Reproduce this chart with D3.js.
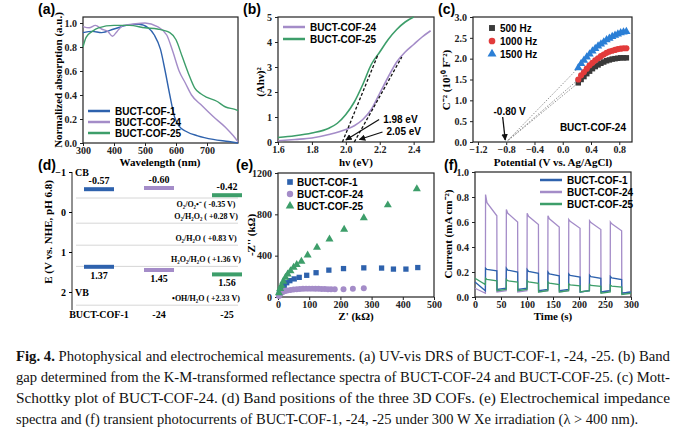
<!DOCTYPE html>
<html><head><meta charset="utf-8">
<script src="https://cdn.jsdelivr.net/npm/d3@7"></script>
<style>
body{margin:0;background:#fff}
svg text{font-family:"Liberation Serif",serif}
.tk{font-weight:bold;font-size:10px}
.lg{font-family:"Liberation Sans",Arial,sans-serif !important;font-weight:bold;font-size:10px}
.pl{font-family:"Liberation Sans",Arial,sans-serif !important;font-weight:bold;font-size:14px}
</style></head>
<body>
<svg id="fig" width="687" height="433"></svg>
<script>
// colours
const cBlue = "#2e62ad", cPurple = "#a48cc8", cGreen = "#3d9e6a";

// (a) UV-vis
const aNames = ["BUCT-COF-1", "BUCT-COF-24", "BUCT-COF-25"];
const aCof1 = [[300,.92],[330,.93],[360,.92],[400,.95],[440,.98],[480,.99],[510,.96],[530,.9],[550,.78],[565,.6],[580,.4],[595,.22],[610,.14],[630,.1],[670,.06],[720,.03],[770,.012],[800,0]];
const aCof24 = [[300,.97],[320,.96],[340,.98],[360,.95],[380,.93],[395,.89],[410,.93],[430,.98],[460,.99],[500,1],[540,.97],[570,.9],[590,.76],[610,.6],[630,.5],[650,.4],[680,.32],[720,.22],[760,.13],[785,.06],[800,.01]];
const aCof25 = [[300,.8],[310,.88],[330,.93],[350,.96],[400,.98],[450,.98],[500,.96],[540,.95],[580,.92],[600,.86],[620,.72],[640,.58],[660,.46],[680,.41],[700,.38],[730,.35],[760,.3],[790,.28],[800,.27]];

// (b) Tauc
const bCof24 = [[1.6,.05],[1.7,.1],[1.8,.16],[1.9,.3],[2.0,.5],[2.05,.65],[2.1,.9],[2.15,1.3],[2.2,1.95],[2.25,2.6],[2.3,3.2],[2.35,3.6],[2.4,3.9],[2.45,4.2],[2.5,4.45]];
const bCof25 = [[1.6,.18],[1.7,.25],[1.8,.36],[1.9,.55],[1.95,.75],[2.0,1.1],[2.05,1.6],[2.1,2.3],[2.15,3.1],[2.2,3.6],[2.25,4.1],[2.3,4.5],[2.35,4.8],[2.4,5.0]];
const bFit25 = [[1.98,0],[2.19,3.5]];
const bFit24 = [[2.05,0],[2.33,3.4]];

// (c) Mott-Schottky
const cV = [.22,.26,.3,.34,.38,.42,.46,.5,.54,.58,.62,.66,.7,.74,.78,.82,.86,.9];
const c500 = [1.42,1.5,1.57,1.64,1.7,1.76,1.81,1.85,1.89,1.92,1.95,1.97,1.99,2,2.01,2.02,2.02,2.02];
const c1000 = [1.5,1.6,1.68,1.76,1.84,1.9,1.96,2.01,2.06,2.1,2.14,2.17,2.19,2.21,2.23,2.24,2.25,2.25];
const c1500 = [1.78,1.88,1.96,2.04,2.11,2.18,2.24,2.3,2.35,2.4,2.45,2.49,2.53,2.56,2.59,2.62,2.64,2.65];
const cFreq = ["500 Hz", "1000 Hz", "1500 Hz"];
const cFlat = -0.8;

// (d) band positions
const dCB = [-0.57, -0.60, -0.42];
const dVB = [1.37, 1.45, 1.56];
const dCats = ["BUCT-COF-1", "-24", "-25"];
const dLevels = [-0.35, 0.28, 0.83, 1.36, 2.33];
const dLevelText = ["O\u2082/O\u2082\u2022\u207B ( -0.35 V)", "O\u2082/H\u2082O\u2082 ( +0.28 V)", "O\u2082/H\u2082O ( +0.83 V)", "H\u2082O\u2082/H\u2082O ( +1.36 V)", "\u2022OH/H\u2082O ( +2.33 V)"];

// (e) EIS
const e1 = [[4,30],[9,60],[14,90],[20,112],[28,138],[38,158],[52,175],[68,190],[92,210],[122,235],[163,260],[210,275],[275,282],[332,280],[370,270],[410,270],[448,285]];
const e24 = [[3,10],[6,25],[10,38],[15,48],[20,55],[25,60],[30,64],[40,68],[50,72],[60,75],[70,78],[80,80],[90,81],[100,81],[110,81],[120,80],[130,79],[140,78],[150,77],[160,76],[170,75],[182,74],[210,75],[240,80],[275,85]];
const e25 = [[3,40],[7,80],[11,110],[17,150],[24,190],[31,222],[40,252],[50,286],[60,312],[75,345],[95,405],[125,480],[165,560],[212,655],[275,765],[352,890],[445,1045]];

// (f) photocurrent: light on/off times and read levels per cycle
const fOn = [20, 60, 100, 140, 180, 220, 260];
const fOff = [42, 82, 122, 162, 202, 242, 282];
const fStart = {b: .12, p: .07, g: .15};
const fPeak = {b:[.23,.23,.22,.2,.185,.175,.165], p:[.82,.70,.67,.65,.62,.61,.60], g:[.15,.14,.13,.12,.105,.1,.095]};
const fEnd = {b:[.21,.2,.19,.17,.16,.15,.14], p:[.65,.60,.58,.56,.55,.54,.53], g:[.13,.12,.11,.1,.09,.085,.08]};
const fDark = {b:[.05,.07,.07,.06,.06,.05,.05,.04], p:[.03,.05,.05,.05,.05,.05,.05,.04], g:[.1,.06,.06,.05,.05,.05,.04,.03]};

const svg = d3.select("#fig");

function panel(x0, x1, y0, y1, xd, yd, xt, yt, xf, yf) {
  const x = d3.scaleLinear().domain(xd).range([x0, x1]);
  const y = d3.scaleLinear().domain(yd).range([y1, y0]);
  const g = svg.append("g");
  g.append("rect").attr("x", x0).attr("y", y0).attr("width", x1 - x0).attr("height", y1 - y0)
    .attr("fill", "none").attr("stroke", "#222").attr("stroke-width", 1.2);
  const ax = g.append("g").attr("transform", `translate(0,${y1})`)
    .call(d3.axisBottom(x).tickValues(xt).tickSize(3).tickFormat(xf || (d => d)));
  const ay = g.append("g").attr("transform", `translate(${x0},0)`)
    .call(d3.axisLeft(y).tickValues(yt).tickSize(3).tickFormat(yf || (d => d)));
  [ax, ay].forEach(a => {
    a.select(".domain").remove();
    a.selectAll("text").attr("class", "tk").attr("fill", "#222");
    a.selectAll("line").attr("stroke", "#222");
  });
  ax.selectAll("text").attr("dy", "0.45em");
  return {x, y, g};
}
function ylabel(t, xx, yy) {
  svg.append("text").attr("transform", `translate(${xx},${yy}) rotate(-90)`).attr("text-anchor", "middle")
    .attr("font-size", 11).attr("font-weight", "bold").text(t);
}
function xlabel(t, xx, yy) {
  svg.append("text").attr("x", xx).attr("y", yy).attr("text-anchor", "middle")
    .attr("font-size", 11).attr("font-weight", "bold").text(t);
}
function plabel(t, xx, yy) {
  svg.append("text").attr("class", "pl").attr("x", xx).attr("y", yy).text(t);
}
function legLine(g, xx, yy, col, t) {
  g.append("line").attr("x1", xx).attr("x2", xx + 22).attr("y1", yy).attr("y2", yy).attr("stroke", col).attr("stroke-width", 2.5);
  g.append("text").attr("class", "lg").attr("x", xx + 27).attr("y", yy + 3.5).text(t);
}
const line = (p) => d3.line().x(d => p.x(d[0])).y(d => p.y(d[1]));

// ---- (a)
const pa = panel(83, 238, 17, 143, [300, 800], [0, 1.05], [300, 400, 500, 600, 700], [0, .2, .4, .6, .8, 1], null, d3.format(".1f"));
[[aCof1, cBlue], [aCof24, cPurple], [aCof25, cGreen]].forEach(([d, c]) =>
  pa.g.append("path").datum(d).attr("d", line(pa).curve(d3.curveMonotoneX)).attr("fill", "none").attr("stroke", c).attr("stroke-width", 1.4));
[cBlue, cPurple, cGreen].forEach((c, i) => legLine(pa.g, 88, 111 + i * 11, c, aNames[i]));
ylabel("Normalized absorption (a.u.)", 62, 80);
xlabel("Wavelength (nm)", 160, 166);
plabel("(a)", 38, 14);

// ---- (b)
const pb = panel(278, 434, 17, 142, [1.6, 2.52], [0, 5], [1.6, 1.8, 2.0, 2.2, 2.4], [0, 1, 2, 3, 4, 5], d3.format(".1f"));
pb.g.append("path").datum(bCof24).attr("d", line(pb).curve(d3.curveMonotoneX)).attr("fill", "none").attr("stroke", cPurple).attr("stroke-width", 1.6);
pb.g.append("path").datum(bCof25).attr("d", line(pb).curve(d3.curveMonotoneX)).attr("fill", "none").attr("stroke", cGreen).attr("stroke-width", 1.6);
[bFit25, bFit24].forEach(d => pb.g.append("path").datum(d).attr("d", line(pb)).attr("stroke", "#111").attr("stroke-width", 1.3).attr("stroke-dasharray", "3,2"));
legLine(pb.g, 283, 27, cPurple, "BUCT-COF-24");
legLine(pb.g, 283, 39, cGreen, "BUCT-COF-25");
svg.append("defs").append("marker").attr("id", "ar").attr("viewBox", "0 0 10 10").attr("refX", 9).attr("refY", 5)
  .attr("markerWidth", 5).attr("markerHeight", 5).attr("orient", "auto")
  .append("path").attr("d", "M0,0L10,5L0,10z").attr("fill", "#111");
[[2.22, .9, 2.0, .08, "1.98 eV"], [2.24, .4, 2.08, .1, "2.05 eV"]].forEach(([tx, ty, hx, hy, t]) => {
  pb.g.append("line").attr("x1", pb.x(tx) - 4).attr("y1", pb.y(ty)).attr("x2", pb.x(hx)).attr("y2", pb.y(hy))
    .attr("stroke", "#111").attr("stroke-width", 1.3).attr("marker-end", "url(#ar)");
  pb.g.append("text").attr("class", "lg").attr("x", pb.x(tx)).attr("y", pb.y(ty) + 3).text(t);
});
ylabel("(Ah\u03BD)\u00B2", 264, 82);
xlabel("h\u03BD (eV)", 356, 166);
plabel("(b)", 243, 14);

// ---- (c)
const pc = panel(473, 632, 17, 142, [-1.27, 0.98], [0, 3], [-1.2, -0.8, -0.4, 0, 0.4, 0.8], [0, .5, 1, 1.5, 2, 2.5, 3], d3.format(".1f"), d3.format(".1f"));
const cSeries = [[c500, "#3a3a3a", d3.symbolSquare], [c1000, "#e23b3b", d3.symbolCircle], [c1500, "#2b7fd6", d3.symbolTriangle]];
cSeries.forEach(([vals, col, sym]) => {
  pc.g.append("line").attr("x1", pc.x(cFlat)).attr("y1", pc.y(0)).attr("x2", pc.x(cV[0])).attr("y2", pc.y(vals[0]))
    .attr("stroke", "#888").attr("stroke-width", 0.9).attr("stroke-dasharray", "1.5,1.5");
  pc.g.selectAll(null).data(cV).join("path")
    .attr("transform", (v, i) => `translate(${pc.x(v)},${pc.y(vals[i])})`)
    .attr("d", d3.symbol(sym, 30)).attr("fill", col);
});
cSeries.forEach(([, col, sym], i) => {
  pc.g.append("path").attr("transform", `translate(${492},${28 + i * 13})`).attr("d", d3.symbol(sym, 35)).attr("fill", col);
  pc.g.append("text").attr("class", "lg").attr("x", 500).attr("y", 31.5 + i * 13).text(cFreq[i]);
});
pc.g.append("line").attr("x1", pc.x(-0.85)).attr("y1", 117).attr("x2", pc.x(cFlat) - 1).attr("y2", pc.y(0) - 2)
  .attr("stroke", "#111").attr("stroke-width", 1.3).attr("marker-end", "url(#ar)");
pc.g.append("text").attr("class", "lg").attr("x", pc.x(-0.98)).attr("y", 115).text("-0.80 V");
pc.g.append("text").attr("class", "lg").attr("x", 626).attr("y", 131).attr("text-anchor", "end").text("BUCT-COF-24");
ylabel("C\u207B\u00B2 (10\u00B9\u2070 F\u207B\u00B2)", 450, 80);
xlabel("Potential (V vs. Ag/AgCl)", 553, 166);
plabel("(c)", 438, 14);

// ---- (d)
const dy = d3.scaleLinear().domain([-1, 2]).range([172, 292]);
const dx = d3.scaleBand().domain(dCats).range([78, 240]).paddingInner(0.5).paddingOuter(0.1);
const dAx = svg.append("g").attr("transform", "translate(72,0)").call(d3.axisLeft(dy).ticks(3).tickSize(3).tickFormat(d3.format("d")));
dAx.select(".domain").attr("d", `M0,${dy(-1)}V${dy(2.45)}`).attr("stroke", "#222");
dAx.selectAll("text").attr("class", "tk").attr("font-size", 11);
dLevels.forEach((v, i) => {
  svg.append("line").attr("x1", 76).attr("x2", 238).attr("y1", dy(v)).attr("y2", dy(v)).attr("stroke", "#ccc").attr("stroke-width", 0.8);
  svg.append("text").attr("x", 206).attr("y", dy(v) + (i === 0 ? 9 : -4)).attr("text-anchor", "middle")
    .attr("font-size", 8).attr("font-weight", "bold").text(dLevelText[i]);
});
const dCols = [cBlue, cPurple, cGreen];
dCats.forEach((c, i) => {
  const bx = dx(c) + (i === 2 ? 8 : 0);
  [dCB[i], dVB[i]].forEach((v, k) => {
    svg.append("rect").attr("x", bx).attr("y", dy(v) - 2).attr("width", dx.bandwidth()).attr("height", 4).attr("fill", dCols[i]);
    svg.append("text").attr("x", bx + dx.bandwidth() / 2).attr("y", k === 0 ? dy(v) - 5 : dy(v) + 12)
      .attr("text-anchor", "middle").attr("font-size", 10).attr("font-weight", "bold").text(v.toFixed(2));
  });
  svg.append("text").attr("x", bx + dx.bandwidth() / 2).attr("y", 318).attr("text-anchor", "middle")
    .attr("font-size", 10).attr("font-weight", "bold").text(c);
});
svg.append("text").attr("x", 75).attr("y", 176).attr("font-size", 10).attr("font-weight", "bold").text("CB");
svg.append("text").attr("x", 75).attr("y", 296).attr("font-size", 10).attr("font-weight", "bold").text("VB");
ylabel("E (V vs. NHE, pH 6.8)", 52, 232);
plabel("(d)", 38, 170);

// ---- (e)
const pe = panel(278, 434, 173, 297, [0, 500], [0, 1200], [0, 100, 200, 300, 400, 500], [0, 400, 800, 1200]);
[[e1, cBlue, d3.symbolSquare], [e24, cPurple, d3.symbolCircle], [e25, cGreen, d3.symbolTriangle]].forEach(([d, col, sym], i) => {
  pe.g.selectAll(null).data(d).join("path").attr("transform", p => `translate(${pe.x(p[0])},${pe.y(p[1])})`)
    .attr("d", d3.symbol(sym, 28)).attr("fill", col);
  pe.g.append("path").attr("transform", `translate(290,${182 + i * 12})`).attr("d", d3.symbol(sym, 32)).attr("fill", col);
  pe.g.append("text").attr("class", "lg").attr("x", 297).attr("y", 185.5 + i * 12).text(aNames[i]);
});
ylabel("-Z'' (k\u03A9)", 255, 235);
xlabel("Z' (k\u03A9)", 356, 320);
plabel("(e)", 236, 170);

// ---- (f)
const pf = panel(475, 631, 172, 297, [0, 300], [0, 1], [0, 50, 100, 150, 200, 250, 300], [0, .2, .4, .6, .8, 1], null, d3.format(".1f"));
function trace(k) {
  const pts = [[0, fStart[k]], [fOn[0], fDark[k][0]]];
  fOn.forEach((t, i) => {
    pts.push([t + 0.3, fPeak[k][i]], [t + 3, (fPeak[k][i] + fEnd[k][i]) / 2 + 0.02 * (k === "p")], [fOff[i], fEnd[k][i]]);
    pts.push([fOff[i] + 0.3, fDark[k][i + 1] - 0.01], [i < 6 ? fOn[i + 1] : 300, fDark[k][i + 1]]);
  });
  return pts;
}
[["p", cPurple], ["b", cBlue], ["g", cGreen]].forEach(([k, c]) =>
  pf.g.append("path").datum(trace(k)).attr("d", line(pf)).attr("fill", "none").attr("stroke", c).attr("stroke-width", 1.3));
[cBlue, cPurple, cGreen].forEach((c, i) => legLine(pf.g, 540, 180 + i * 12, c, aNames[i]));
ylabel("Current (mA cm\u207B\u00B2)", 452, 234);
xlabel("Time (s)", 553, 320);
plabel("(f)", 444, 170);

// caption
const cap = [
  ["Fig. 4.", " Photophysical and electrochemical measurements. (a) UV-vis DRS of BUCT-COF-1, -24, -25. (b) Band"],
  ["", "gap determined from the K-M-transformed reflectance spectra of BUCT-COF-24 and BUCT-COF-25. (c) Mott-"],
  ["", "Schottky plot of BUCT-COF-24. (d) Band positions of the three 3D COFs. (e) Electrochemical impedance"],
  ["", "spectra and (f) transient photocurrents of BUCT-COF-1, -24, -25 under 300 W Xe irradiation (\u03BB > 400 nm)."]
];
cap.forEach(([b, t], i) => {
  const tx = svg.append("text").attr("x", 16).attr("y", 361 + i * 21).attr("font-size", 14.5).attr("fill", "#111");
  if (i < 3) tx.attr("textLength", 654).attr("lengthAdjust", "spacingAndGlyphs");
  if (b) tx.append("tspan").attr("font-weight", "bold").text(b);
  tx.append("tspan").text(t);
});
</script>
</body></html>
